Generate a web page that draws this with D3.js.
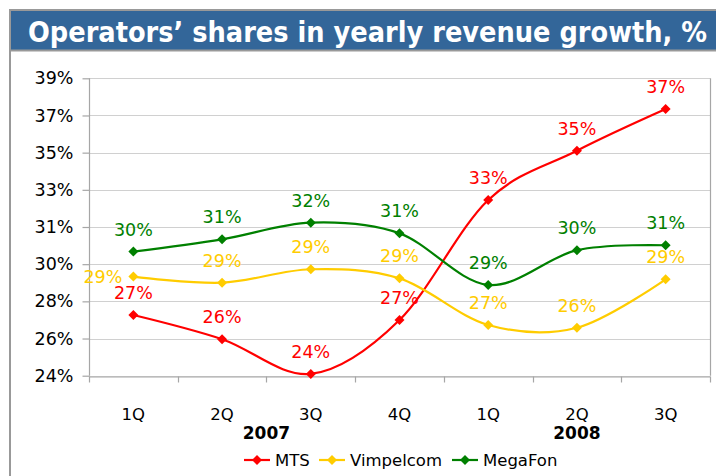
<!DOCTYPE html>
<html>
<head>
<meta charset="utf-8">
<script src="https://cdn.jsdelivr.net/npm/d3@7"></script>
<style>
  html, body { margin: 0; padding: 0; background: #fff; }
  svg { display: block; }
  text { font-family: "DejaVu Sans", Verdana, sans-serif; }
</style>
</head>
<body>
<svg id="chart" width="716" height="476"></svg>
<script>
// ---- data ----
const titleText = "Operators\u2019 shares in yearly revenue growth, %";
const categories = ["2007-1Q", "2007-2Q", "2007-3Q", "2007-4Q", "2008-1Q", "2008-2Q", "2008-3Q"];
const quarterLabels = ["1Q", "2Q", "3Q", "4Q", "1Q", "2Q", "3Q"];
const years = ["2007", "2008"];
const yearGroups = [["2007-1Q", "2007-4Q"], ["2008-1Q", "2008-3Q"]];
const seriesNames = ["MTS", "Vimpelcom", "MegaFon"];
const mtsValues = [27.06, 25.84, 24.09, 26.81, 32.86, 35.35, 37.45];
const vimpelcomValues = [29.0, 28.69, 29.37, 28.91, 26.56, 26.42, 28.86];
const megafonValues = [30.26, 30.88, 31.72, 31.18, 28.58, 30.33, 30.58];
const yTickValues = [24, 25.875, 27.75, 29.625, 31.5, 33.375, 35.25, 37.125, 39];
const yTickLabels = ["24%", "26%", "28%", "30%", "31%", "33%", "35%", "37%", "39%"];
const seriesColors = ["#ff0000", "#ffcc00", "#008000"];

const seriesValues = [mtsValues, vimpelcomValues, megafonValues];

const svg = d3.select("#chart");

// ---- frame & title ----
svg.append("rect").attr("x", 10).attr("y", 10).attr("width", 720).attr("height", 480)
  .attr("fill", "#fff").attr("stroke", "#999999").attr("stroke-width", 2);
svg.append("rect").attr("x", 11).attr("y", 11).attr("width", 705).attr("height", 39)
  .attr("fill", "#336699");
svg.append("line").attr("x1", 10).attr("x2", 716).attr("y1", 50.5).attr("y2", 50.5)
  .attr("stroke", "#999999").attr("stroke-width", 2);
const title = svg.append("text").attr("x", 0).attr("y", 0)
  .attr("fill", "#fff").attr("font-weight", "bold").attr("font-size", 27.5)
  .text(titleText);
const tw = title.node().getComputedTextLength();
title.attr("transform", `translate(28,41.5) scale(${679 / tw},1)`);

// ---- scales ----
const x = d3.scaleBand().domain(categories).range([89, 710]);
const y = d3.scaleLinear().domain([24, 39]).range([375.7, 78.3]);

// gridlines
svg.append("g").selectAll("line").data(yTickValues).join("line")
  .attr("x1", 89).attr("x2", 710)
  .attr("y1", d => Math.round(y(d)) + 0.5).attr("y2", d => Math.round(y(d)) + 0.5)
  .attr("stroke", "#d0d0d0").attr("stroke-width", 1.2);

// right border of plot
svg.append("line").attr("x1", 710.5).attr("x2", 710.5).attr("y1", y(39)).attr("y2", y(24))
  .attr("stroke", "#a6a6a6").attr("stroke-width", 1.2);

// y axis
const yAxis = d3.axisLeft(y).tickValues(yTickValues)
  .tickFormat((d, i) => yTickLabels[i]).tickSize(7).tickPadding(9);
const gy = svg.append("g").attr("transform", "translate(89.5,0)").call(yAxis);
gy.selectAll("path,line").attr("stroke", "#a6a6a6").attr("stroke-width", 1.2);
gy.select(".domain").attr("d", `M0,${y(39)}V${y(24)}`);
gy.selectAll("text").attr("font-size", 17.5).attr("fill", "#000")
  .attr("font-family", "'DejaVu Sans', sans-serif");

// x axis
const xAxis = d3.axisBottom(x).tickFormat((d, i) => quarterLabels[i]).tickSize(0).tickPadding(32);
const gx = svg.append("g").attr("transform", `translate(0,${Math.round(y(24)) + 0.5})`).call(xAxis);
gx.select(".domain").attr("stroke", "#a6a6a6").attr("stroke-width", 1.2);
gx.selectAll("text").attr("font-size", 16.5).attr("fill", "#000")
  .attr("font-family", "'DejaVu Sans', sans-serif");
const boundaries = categories.map(c => x(c)).concat([x.range()[1]]);
gx.selectAll("line.bt").data(boundaries).join("line").attr("class", "bt")
  .attr("x1", d => Math.round(d) + 0.5).attr("x2", d => Math.round(d) + 0.5)
  .attr("y1", 0).attr("y2", 6).attr("stroke", "#a6a6a6").attr("stroke-width", 1.2);

// year labels
svg.append("g").selectAll("text").data(years).join("text")
  .attr("x", (d, i) => (x(yearGroups[i][0]) + x(yearGroups[i][1]) + x.bandwidth()) / 2)
  .attr("y", 438.5).attr("text-anchor", "middle")
  .attr("font-size", 17).attr("font-weight", "bold").attr("fill", "#000")
  .text(d => d);

// ---- series ----
const line = d3.line()
  .x((d, i) => x(categories[i]) + x.bandwidth() / 2)
  .y(d => y(d))
  .curve(d3.curveCatmullRom.alpha(0));

const diamond = d3.symbol().type(d3.symbolSquare).size(50);

seriesValues.forEach((vals, s) => {
  const g = svg.append("g");
  g.append("path").attr("d", line(vals)).attr("fill", "none")
    .attr("stroke", seriesColors[s]).attr("stroke-width", 2.2);
  g.selectAll("path.m").data(vals).join("path").attr("class", "m")
    .attr("d", diamond)
    .attr("transform", (d, i) => `translate(${x(categories[i]) + x.bandwidth() / 2},${y(d)}) rotate(45)`)
    .attr("fill", seriesColors[s]);
});

// data labels (drawn on top)
seriesValues.forEach((vals, s) => {
  svg.append("g").selectAll("text").data(vals).join("text")
    .attr("x", (d, i) => {
      const cx = x(categories[i]) + x.bandwidth() / 2;
      return (s === 1 && i === 0) ? cx - 11 : cx;
    })
    .attr("y", (d, i) => (s === 1 && i === 0) ? y(d) + 6.5 : y(d) - 16)
    .attr("text-anchor", (d, i) => (s === 1 && i === 0) ? "end" : "middle")
    .attr("font-size", 17.5).attr("fill", seriesColors[s])
    .text(d => Math.round(d) + "%");
});

// ---- legend ----
const legendItems = [
  { name: seriesNames[0], x0: 244, color: seriesColors[0] },
  { name: seriesNames[1], x0: 319, color: seriesColors[1] },
  { name: seriesNames[2], x0: 452, color: seriesColors[2] }
];
const lg = svg.append("g");
legendItems.forEach(it => {
  lg.append("line").attr("x1", it.x0).attr("x2", it.x0 + 26).attr("y1", 460).attr("y2", 460)
    .attr("stroke", it.color).attr("stroke-width", 2.2);
  lg.append("path").attr("d", diamond).attr("transform", `translate(${it.x0 + 13},460) rotate(45)`)
    .attr("fill", it.color);
  lg.append("text").attr("x", it.x0 + 31).attr("y", 466).attr("font-size", 16.5)
    .attr("fill", "#000").text(it.name);
});
</script>
</body>
</html>
